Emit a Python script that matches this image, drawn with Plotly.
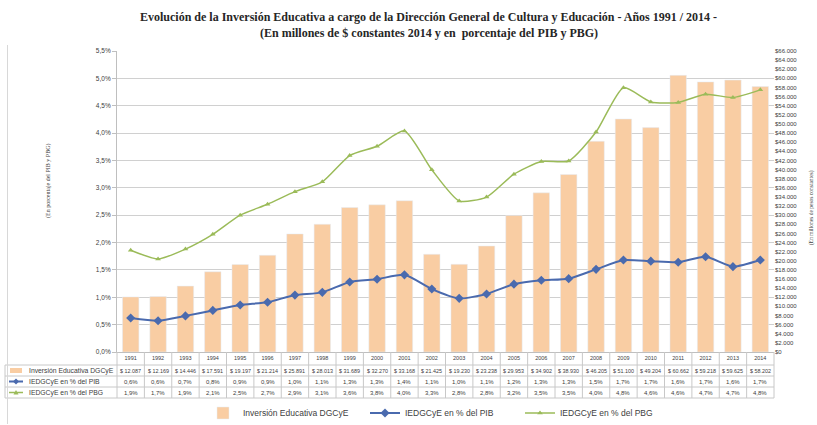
import plotly.graph_objects as go

years = [str(y) for y in range(1991, 2015)]
inversion = [12087, 12169, 14446, 17591, 19197, 21214, 25891, 28013, 31689, 32270, 33168, 21425,
             19230, 23238, 29953, 34902, 38930, 46205, 51100, 49204, 60662, 59218, 59625, 58202]
pct_pib = [0.0062, 0.0057, 0.0066, 0.0076, 0.0086, 0.0091, 0.0104, 0.0109, 0.0128, 0.0133, 0.0141, 0.0115,
           0.0098, 0.0106, 0.0124, 0.0131, 0.0134, 0.0151, 0.0168, 0.0166, 0.0164, 0.0174, 0.0156, 0.0168]
pct_pbg = [0.0186, 0.0170, 0.0188, 0.0215, 0.0250, 0.0270, 0.0293, 0.0311, 0.0359, 0.0376, 0.0404, 0.0333,
           0.0276, 0.0283, 0.0325, 0.0348, 0.0349, 0.0402, 0.0483, 0.0457, 0.0456, 0.0471, 0.0465, 0.0479]
names = ["Inversión Educativa DGCyE", "IEDGCyE en % del PIB", "IEDGCyE en % del PBG"]

W, H = 817, 425
# plot area in page pixels: x 117..774, y 51..352
L, T = 117, 51
PW = 774 - 117
PH = 352 - 51
R = W - L - PW
B = H - T - PH

def px(X):
    return (X - L) / PW

def py(Y):
    return (T + PH - Y) / PH

BAR = "#F9CDA3"
BLUE = "#4A6AAE"
GREEN = "#9BBB59"
GRID = "#D0D0D0"
TXT = "#404040"
FNT = "Liberation Sans Narrow, Liberation Sans, Arial"

fig = go.Figure()
fig.add_trace(go.Bar(x=years, y=inversion, name=names[0], marker_color=BAR, yaxis="y", legend="legend"))
fig.add_trace(go.Scatter(x=years, y=pct_pib, name=names[1], yaxis="y2", mode="lines+markers", legend="legend2",
                         line=dict(color=BLUE, width=2, shape="spline", smoothing=0.6),
                         marker=dict(symbol="diamond", size=7, color=BLUE)))
fig.add_trace(go.Scatter(x=years, y=pct_pbg, name=names[2], yaxis="y2", mode="lines+markers", legend="legend3",
                         line=dict(color=GREEN, width=1.5, shape="spline", smoothing=0.6),
                         marker=dict(symbol="triangle-up", size=5, color=GREEN)))

n = len(years)

def leg(xpage):
    return dict(orientation="h", x=px(xpage), y=py(413), xanchor="left", yanchor="middle",
                font=dict(size=8.5, color=TXT), bgcolor="rgba(0,0,0,0)", itemwidth=30)

fig.update_layout(
    width=W, height=H, margin=dict(l=L, r=R, t=T, b=B, autoexpand=False),
    paper_bgcolor="white", plot_bgcolor="white",
    separators=",.",
    bargap=0.4,
    font=dict(family=FNT, size=6, color=TXT),
    xaxis=dict(type="category", range=[-0.5, n - 0.5], showgrid=False, showline=True, linecolor="#BFBFBF",
               tickfont=dict(size=5.5, color=TXT), ticks="", ticklen=0),
    yaxis=dict(side="right", range=[0, 66000], dtick=2000, tickprefix="$", tickformat=",.0f",
               showgrid=False, zeroline=False, showline=False, ticks="",
               tickfont=dict(size=6, color=TXT)),
    yaxis2=dict(side="left", overlaying="y", range=[0, 0.055], dtick=0.005, tickformat=".1%",
                showgrid=True, gridcolor=GRID, gridwidth=1, zeroline=False,
                showline=True, linecolor="#BFBFBF", ticks="outside", ticklen=4, tickcolor="#BFBFBF",
                tickfont=dict(size=6.5, color=TXT)),
    legend=leg(203), legend2=leg(365), legend3=leg(520),
    showlegend=True,
)

shapes = []
line_c = "#C8C8C8"
for Y in [365, 376, 387, 398]:
    shapes.append(dict(type="line", xref="paper", yref="paper", x0=px(5), x1=1, y0=py(Y), y1=py(Y),
                       line=dict(color=line_c, width=1)))
for i in range(n + 1):
    xb = i / n
    shapes.append(dict(type="line", xref="paper", yref="paper", x0=xb, x1=xb, y0=py(398), y1=0,
                       line=dict(color=line_c, width=1)))
shapes.append(dict(type="line", xref="paper", yref="paper", x0=px(5), x1=px(5), y0=py(398), y1=py(365),
                   line=dict(color=line_c, width=1)))
shapes.append(dict(type="line", xref="paper", yref="paper", x0=px(7.5), x1=px(7.5), y0=py(424), y1=py(45),
                   line=dict(color="#D8D8D8", width=1)))
shapes.append(dict(type="rect", xref="paper", yref="paper", x0=px(10), x1=px(22), y0=py(373), y1=py(368),
                   fillcolor=BAR, line=dict(width=0)))
shapes.append(dict(type="line", xref="paper", yref="paper", x0=px(9), x1=px(23), y0=py(381.5), y1=py(381.5),
                   line=dict(color=BLUE, width=2)))
shapes.append(dict(type="path", xref="paper", yref="paper",
                   path=f"M {px(16)} {py(378.5)} L {px(19)} {py(381.5)} L {px(16)} {py(384.5)} L {px(13)} {py(381.5)} Z",
                   fillcolor=BLUE, line=dict(width=0)))
shapes.append(dict(type="line", xref="paper", yref="paper", x0=px(9), x1=px(23), y0=py(392.5), y1=py(392.5),
                   line=dict(color=GREEN, width=1.5)))
shapes.append(dict(type="path", xref="paper", yref="paper",
                   path=f"M {px(16)} {py(390)} L {px(18.5)} {py(394.5)} L {px(13.5)} {py(394.5)} Z",
                   fillcolor=GREEN, line=dict(width=0)))

ann = []
def fmt_money(v):
    return "$ " + f"{v:,.0f}".replace(",", ".")

def fmt_pct(v):
    return f"{v*100:.1f}".replace(".", ",") + "%"

for i in range(n):
    ann.append(dict(x=i, xref="x", y=py(370.5), yref="paper", text=fmt_money(inversion[i]), showarrow=False,
                    font=dict(size=5.4, color=TXT), xanchor="center", yanchor="middle"))
    ann.append(dict(x=i, xref="x", y=py(381.5), yref="paper", text=fmt_pct(pct_pib[i]), showarrow=False,
                    font=dict(size=6, color=TXT), xanchor="center", yanchor="middle"))
    ann.append(dict(x=i, xref="x", y=py(392.5), yref="paper", text=fmt_pct(pct_pbg[i]), showarrow=False,
                    font=dict(size=6, color=TXT), xanchor="center", yanchor="middle"))
for k, Y in enumerate([370.5, 381.5, 392.5]):
    ann.append(dict(x=px(27), xref="paper", y=py(Y), yref="paper", text=names[k], showarrow=False,
                    font=dict(size=6.8, color=TXT), xanchor="left", yanchor="middle"))

SERIF = "Liberation Serif, DejaVu Serif, serif"
ann.append(dict(x=px(428), xref="paper", y=py(17), yref="paper", showarrow=False,
                text="<b>Evolución de la Inversión Educativa a cargo de la Dirección General de Cultura y Educación - Años 1991 / 2014 -</b>",
                font=dict(family=SERIF, size=12, color="#262626"), xanchor="center", yanchor="middle"))
ann.append(dict(x=px(429), xref="paper", y=py(33), yref="paper", showarrow=False,
                text="<b>(En millones de $ constantes 2014 y en  porcentaje del PIB y PBG)</b>",
                font=dict(family=SERIF, size=12, color="#262626"), xanchor="center", yanchor="middle"))
ann.append(dict(x=px(48), xref="paper", y=py(181), yref="paper", showarrow=False, textangle=-90,
                text="(En porcentaje del PIB y PBG)",
                font=dict(family=SERIF, size=6, color=TXT), xanchor="center", yanchor="middle"))
ann.append(dict(x=px(811), xref="paper", y=py(208), yref="paper", showarrow=False, textangle=-90,
                text="(En millones de pesos constantes)",
                font=dict(family=SERIF, size=5.5, color=TXT), xanchor="center", yanchor="middle"))

fig.update_layout(shapes=shapes, annotations=ann)
fig.write_html("out.html", config={"displayModeBar": False},
               post_script="document.body.style.margin='0';document.body.style.overflow='hidden';")
